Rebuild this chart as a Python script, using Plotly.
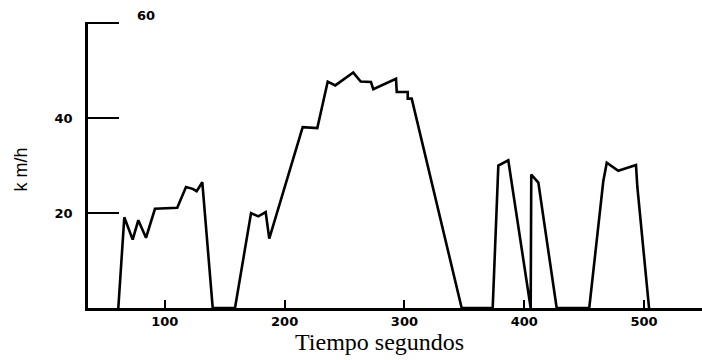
import plotly.graph_objects as go

# Speed profile (time in s, speed in km/h)
time_s = [61.2, 66.2, 73.2, 77.9, 84.3, 91.8, 110.4, 117.7, 123.3, 126.6, 131.3, 140.0,
          158.6, 172.0, 178.0, 184.2, 187.2, 215.1, 227.3, 236.0, 242.3, 257.3, 263.5,
          272.1, 274.0, 293.0, 293.6, 302.8, 302.8, 306.1, 347.8,
          373.7, 378.4, 386.7, 405.4, 405.9, 411.8, 427.1,
          454.3, 466.0, 468.9, 478.5, 493.3, 494.4, 504.2]
speed_kmh = [0, 19.1, 14.4, 18.5, 14.8, 20.9, 21.1, 25.5, 25.1, 24.6, 26.5, 0,
             0, 20.0, 19.3, 20.2, 14.6, 38.1, 37.9, 47.7, 46.9, 49.6, 47.7,
             47.6, 46.1, 48.3, 45.5, 45.5, 44.1, 44.1, 0,
             0, 30.0, 31.1, 0, 28.1, 26.4, 0,
             0, 26.7, 30.6, 28.9, 30.1, 25.6, 0]

x_ticks = [100, 200, 300, 400, 500]
x_ticktext = ["100", "200", "300", "400", "500"]
y_ticks = [20, 40, 60]
y_ticktext = ["20", "40", " "]

fig = go.Figure()
fig.add_trace(go.Scatter(
    x=time_s, y=speed_kmh, mode="lines",
    line=dict(color="black", width=2.6),
    cliponaxis=False, hoverinfo="skip", showlegend=False,
))

tickfont = dict(family="DejaVu Sans", size=13, color="black", weight="bold")

fig.update_layout(
    width=702, height=360,
    margin=dict(l=88, r=0, t=22, b=52),
    paper_bgcolor="white", plot_bgcolor="white",
    xaxis=dict(
        range=[35.9, 548.4], showgrid=False, zeroline=False,
        showline=True, linecolor="black", linewidth=2.5,
        tickmode="array", tickvals=x_ticks, ticktext=x_ticktext,
        ticks="inside", ticklen=8, tickwidth=1.5, tickcolor="black",
        tickfont=tickfont,
    ),
    yaxis=dict(
        range=[0, 60.25], showgrid=False, zeroline=False,
        showline=True, linecolor="black", linewidth=2.5,
        tickmode="array", tickvals=y_ticks, ticktext=y_ticktext,
        ticks="inside", ticklen=31, tickwidth=1.5, tickcolor="black",
        tickfont=tickfont, ticklabelstandoff=10,
    ),
    annotations=[
        dict(text="60", xref="paper", yref="paper", x=(146 - 88) / 614, y=(308.5 - 16) / 286,
             showarrow=False, xanchor="center", yanchor="middle", font=tickfont),
        dict(text="Tiempo segundos", xref="paper", yref="paper",
             x=(379 - 88) / 614, y=(308.5 - 342) / 286,
             showarrow=False, xanchor="center", yanchor="middle",
             font=dict(family="Liberation Serif", size=24, color="black")),
        dict(text="k m/h", xref="paper", yref="paper",
             x=(20 - 88) / 614, y=(308.5 - 170) / 286, textangle=-90,
             showarrow=False, xanchor="center", yanchor="middle",
             font=dict(family="Liberation Sans", size=18, color="black")),
    ],
)

fig.write_html(
    "out.html",
    config={"displayModeBar": False},
    post_script="document.body.style.margin='0';document.body.style.overflow='hidden';",
)
